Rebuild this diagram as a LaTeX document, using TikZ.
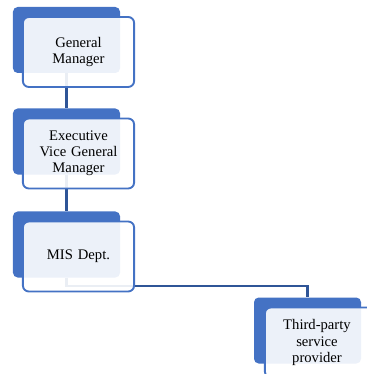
\documentclass[tikz,border=0pt]{standalone}
\usepackage{fontspec}
\setmainfont{Liberation Serif}
\usepackage{xcolor}
\usetikzlibrary{calc, positioning}

\definecolor{orgblue}{HTML}{4472C4}
\definecolor{linkblue}{HTML}{2F5597}

\begin{document}
\begin{tikzpicture}[x=0.03cm, y=-0.03cm]
    \tikzstyle{backbox} = [rectangle, fill=orgblue, rounded corners=4pt, minimum width=3.21cm, minimum height=1.98cm, inner sep=0pt]
    \tikzstyle{frontbox} = [rectangle, draw=orgblue, line width=1.6pt, fill=white, fill opacity=0.9, text opacity=1, rounded corners=5pt, minimum width=3.33cm, minimum height=2.1cm, text width=3.1cm, align=center, font=\fontsize{12.5}{13.8}\selectfont]
    \tikzstyle{link} = [draw=linkblue, line width=2.1pt]

    \useasboundingbox (0,0) rectangle (366,374);

    % back plates
    \node [backbox] (gmback) at (66.5,40) {};
    \node [backbox] (evback) at (66.5,141.5) {};
    \node [backbox] (misback) at (66.5,244.5) {};
    \node [backbox] (tpback) at (307.5,330.5) {};

    % connectors behind the front boxes
    \draw [link] (gmback.south) -- (evback.north);
    \draw [link] (evback.south) -- (misback.north);
    \draw [link] (misback.south) -- ++(0,8) -| (tpback.north);

    % front boxes
    \node [frontbox] (gm) at (78.5,52) {General\\Manager};
    \node [frontbox] (ev) at (78.5,153.5) {Executive\\Vice General\\Manager};
    \node [frontbox] (mis) at (78.5,256.5) {MIS Dept.};
    \node [frontbox] (tp) at (320.5,342.5) {\hspace*{-6pt}Third-party\\\hspace*{-6pt}service\\\hspace*{-6pt}provider};
\end{tikzpicture}
\end{document}
